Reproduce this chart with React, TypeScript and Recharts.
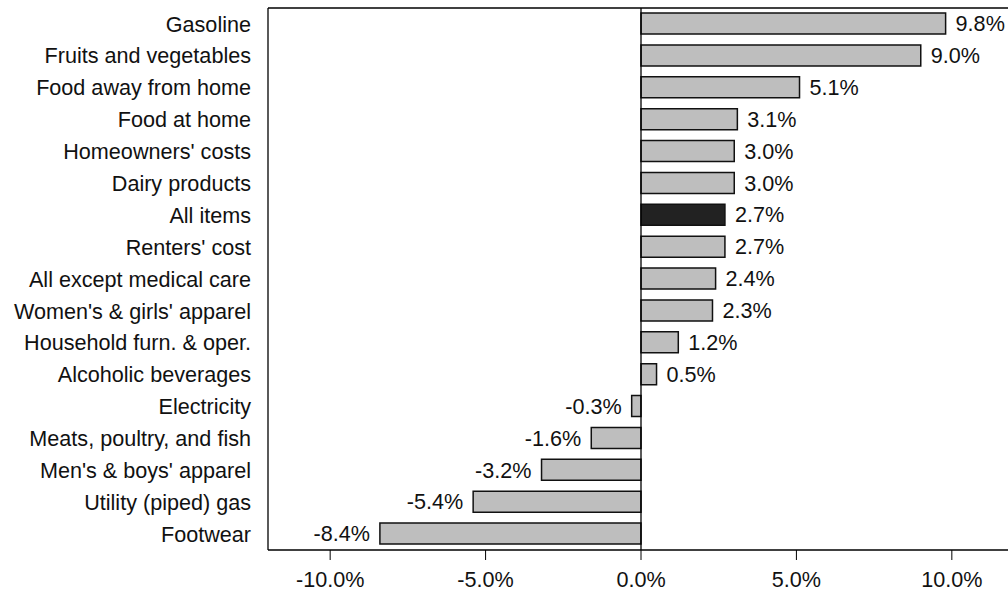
import { Bar, BarChart, Cell, LabelList, ReferenceLine, XAxis, YAxis } from "recharts";

const categories = [
  "Gasoline",
  "Fruits and vegetables",
  "Food away from home",
  "Food at home",
  "Homeowners' costs",
  "Dairy products",
  "All items",
  "Renters' cost",
  "All except medical care",
  "Women's & girls' apparel",
  "Household furn. & oper.",
  "Alcoholic beverages",
  "Electricity",
  "Meats, poultry, and fish",
  "Men's & boys' apparel",
  "Utility (piped) gas",
  "Footwear",
];

const changes = [9.8, 9.0, 5.1, 3.1, 3.0, 3.0, 2.7, 2.7, 2.4, 2.3, 1.2, 0.5, -0.3, -1.6, -3.2, -5.4, -8.4];

const xTicks = [-10, -5, 0, 5, 10];

const highlight = "All items";

const data = categories.map((name, i) => ({ name, value: changes[i] }));

const FONT = "'Liberation Sans', Arial, Helvetica, sans-serif";
const FS = 21.6;

function pct(v: number): string {
  return `${v.toFixed(1)}%`;
}

function ValueLabel(props: any) {
  const { x, y, width, height, value } = props;
  const left = Math.min(x, x + width);
  const right = Math.max(x, x + width);
  const neg = value < 0;
  return (
    <text
      x={neg ? left - 10 : right + 10}
      y={y + height / 2}
      dy="0.355em"
      textAnchor={neg ? "end" : "start"}
      fontSize={FS}
      fontFamily={FONT}
      fill="#111"
    >
      {pct(value)}
    </text>
  );
}

export default function App() {
  return (
    <div style={{ position: "absolute", left: 0, top: 0, width: 1008, height: 592, overflow: "hidden", background: "#fff" }}>
      <BarChart
        width={1016}
        height={592}
        data={data}
        layout="vertical"
        margin={{ top: 7, right: 2, left: 0, bottom: 0 }}
        barSize={21}
      >
        <XAxis
          type="number"
          dataKey="value"
          domain={[-12, 12]}
          ticks={xTicks}
          tickFormatter={pct}
          height={42}
          tickSize={10}
          tickMargin={12}
          axisLine={{ stroke: "#000", strokeWidth: 1.3 }}
          tickLine={{ stroke: "#000", strokeWidth: 1 }}
          tick={{ fill: "#111", fontSize: FS, fontFamily: FONT }}
          allowDataOverflow
        />
        <XAxis
          xAxisId="top"
          type="number"
          orientation="top"
          domain={[-12, 12]}
          height={1}
          tick={false}
          tickLine={false}
          axisLine={{ stroke: "#000", strokeWidth: 1.3 }}
        />
        <YAxis
          type="category"
          dataKey="name"
          width={268}
          interval={0}
          tickLine={false}
          tickSize={0}
          tickMargin={17}
          axisLine={{ stroke: "#000", strokeWidth: 1.3 }}
          tick={{ fill: "#111", fontSize: FS, fontFamily: FONT }}
        />
        <ReferenceLine x={0} stroke="#000" strokeWidth={1.3} />
        <Bar dataKey="value" stroke="#111" strokeWidth={1.5} isAnimationActive={false}>
          {data.map((d) => (
            <Cell key={d.name} fill={d.name === highlight ? "#222222" : "#BEBEBE"} />
          ))}
          <LabelList dataKey="value" content={ValueLabel} />
        </Bar>
      </BarChart>
    </div>
  );
}
